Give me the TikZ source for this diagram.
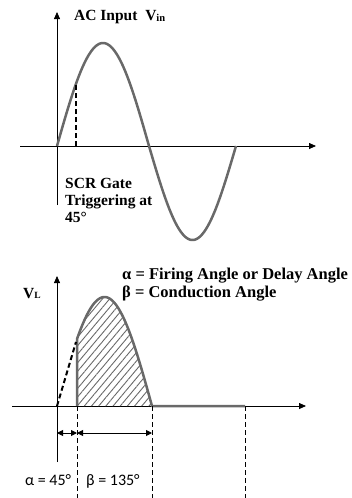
\documentclass[tikz,border=0pt]{standalone}
\usepackage{fontspec}
\setmainfont{Liberation Serif}
\newfontfamily\calfont{Carlito}
\usetikzlibrary{arrows.meta,patterns.meta}
\definecolor{wave}{RGB}{105,105,105}
\tikzset{
  axis/.style={line width=0.8pt,-{Triangle[length=7pt,width=6pt]}},
  wavel/.style={wave,line width=2.5pt,line join=round},
  lbl/.style={font=\bfseries\fontsize{15.5}{16.5}\selectfont,anchor=base west,inner sep=0pt,align=left},
  legend/.style={font=\bfseries\fontsize{16.5}{18}\selectfont,anchor=base west,inner sep=0pt},
  dimtext/.style={font=\calfont\fontsize{16}{18}\selectfont,anchor=base west,inner sep=0pt},
  trig/.style={black,line width=2pt,dash pattern=on 5pt off 3pt},
  guide/.style={black,line width=0.6pt,dash pattern=on 5pt off 3pt},
  dim/.style={line width=0.9pt,{Triangle[length=6pt,width=6pt]}-{Triangle[length=6pt,width=6pt]}}
}
\begin{document}
\begin{tikzpicture}[x=1pt,y=-1pt]
\useasboundingbox (0,0) rectangle (352,498);
% ---------- top graph ----------
\coordinate (t0) at (57,205);
\coordinate (t1) at (57,12);
\coordinate (tx0) at (20,146);
\coordinate (tx1) at (316,146);
\draw[axis] (t0) -- (t1);
\draw[axis] (tx0) -- (tx1);
\draw[wavel] plot[domain=57:149,samples=80] (\x,{146-103*sin((\x-57)/92*180)})
  -- plot[domain=149:236,samples=80] (\x,{146+94*sin((\x-149)/87*180)});
\coordinate (g0) at (76,146);
\coordinate (g1) at (76,84);
\draw[trig] (g0) -- (g1);
\node[lbl] (acin) at (74,20) {AC Input\ \ V\raisebox{-0.25ex}{\fontsize{10.5}{10.5}\selectfont in}};
\node[lbl] (scr1) at (65,188) {SCR Gate};
\node[lbl] (scr2) at (65,205) {Triggering at};
\node[lbl] (scr3) at (65,222) {45°};
% ---------- bottom graph ----------
\coordinate (b0) at (57,462);
\coordinate (b1) at (57,276);
\coordinate (bx0) at (12,406);
\coordinate (bx1) at (306,406);
\draw[axis] (b0) -- (b1);
\draw[axis] (bx0) -- (bx1);
\fill[pattern={Lines[angle=50,distance=5.5pt,line width=0.9pt]},pattern color=wave]
  (77,406) -- plot[domain=77:152,samples=80] (\x,{406-109*sin((\x-57)/95*180)}) -- cycle;
\draw[wavel] (77,406) -- (77,{406-109*sin(20/95*180)})
  -- plot[domain=77:152,samples=80] (\x,{406-109*sin((\x-57)/95*180)}) -- (245,406);
\coordinate (d0) at (57,406);
\coordinate (d1) at (76,{406-109*sin(19/95*180)});
\draw[trig] (d0) -- (d1);
\coordinate (v1a) at (77,406); \coordinate (v1b) at (77,498);
\coordinate (v2a) at (152,406); \coordinate (v2b) at (152,498);
\coordinate (v3a) at (245,406); \coordinate (v3b) at (245,498);
\draw[guide] (v1a) -- (v1b);
\draw[guide] (v2a) -- (v2b);
\draw[guide] (v3a) -- (v3b);
\coordinate (a0) at (57,433); \coordinate (a1) at (77,433); \coordinate (a2) at (152,433);
\draw[dim] (a0) -- (a1);
\draw[dim] (a1) -- (a2);
\node[lbl] (vl) at (23,298) {V\raisebox{-0.1ex}{\fontsize{9.5}{9.5}\selectfont L}};
\node[legend] (leg1) at (122,279) {α = Firing Angle or Delay Angle};
\node[legend] (leg2) at (122,297) {β = Conduction Angle};
\node[dimtext] (al) at (25,485) {α = 45°};
\node[dimtext] (be) at (86,485) {β = 135°};
\end{tikzpicture}
\end{document}
